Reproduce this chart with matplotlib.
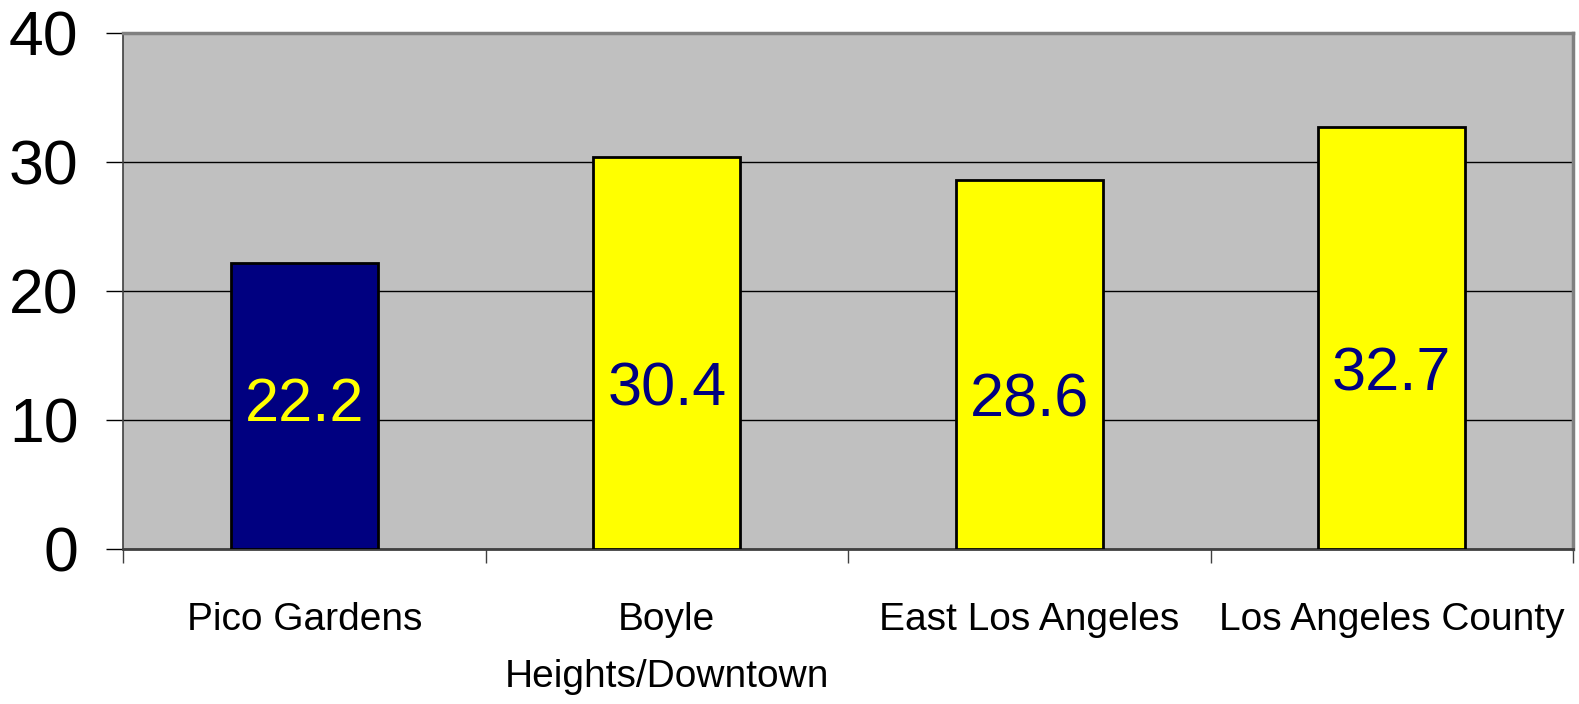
import matplotlib
matplotlib.use("Agg")
import matplotlib.pyplot as plt
from matplotlib.ticker import FixedLocator

plt.rcParams['font.family'] = ['Liberation Sans', 'DejaVu Sans']

# data
categories = ["Pico Gardens", "Boyle\nHeights/Downtown", "East Los Angeles", "Los Angeles County"]
values = [22.2, 30.4, 28.6, 32.7]
bar_colors = ["#000080", "#FFFF00", "#FFFF00", "#FFFF00"]
label_colors = ["#FFFF00", "#000080", "#000080", "#000080"]
label_frac = [0.50, 0.405, 0.40, 0.413]   # where the value label sits inside each bar
y_ticks = [0, 10, 20, 30, 40]

fig = plt.figure(figsize=(15.79, 7.04), dpi=100)
ax = fig.add_axes([0.0779, 0.2202, 0.9183, 0.7330])
ax.set_facecolor("#C0C0C0")

x = list(range(len(categories)))
ax.bar(x, values, width=0.405, color=bar_colors, edgecolor="black", linewidth=2, zorder=3)

for xi, v, f, c in zip(x, values, label_frac, label_colors):
    ax.text(xi, v * f, f"{v}", ha="center", va="center", color=c, fontsize=44, zorder=4)

ax.set_xlim(-0.5, len(categories) - 0.5)
ax.set_ylim(0, 40)
ax.set_yticks(y_ticks)
ax.yaxis.grid(True, color="black", linewidth=1.0, zorder=1)
ax.set_axisbelow(True)

ax.set_xticks(x)
ax.set_xticklabels(categories, fontsize=28, linespacing=1.75)
ax.xaxis.set_minor_locator(FixedLocator([i - 0.5 for i in range(len(categories) + 1)]))
ax.tick_params(axis="x", which="major", length=0, pad=38)
ax.tick_params(axis="x", which="minor", length=10, width=1, color="#404040", direction="out")
ax.tick_params(axis="y", length=12, width=1, pad=20, labelsize=45)

ax.spines["top"].set_color("#808080")
ax.spines["top"].set_linewidth(2.5)
ax.spines["right"].set_color("#808080")
ax.spines["right"].set_linewidth(2.5)
ax.spines["left"].set_color("#404040")
ax.spines["left"].set_linewidth(1.2)
ax.spines["bottom"].set_color("#404040")
ax.spines["bottom"].set_linewidth(2)

fig.savefig("out.png", dpi=100)
